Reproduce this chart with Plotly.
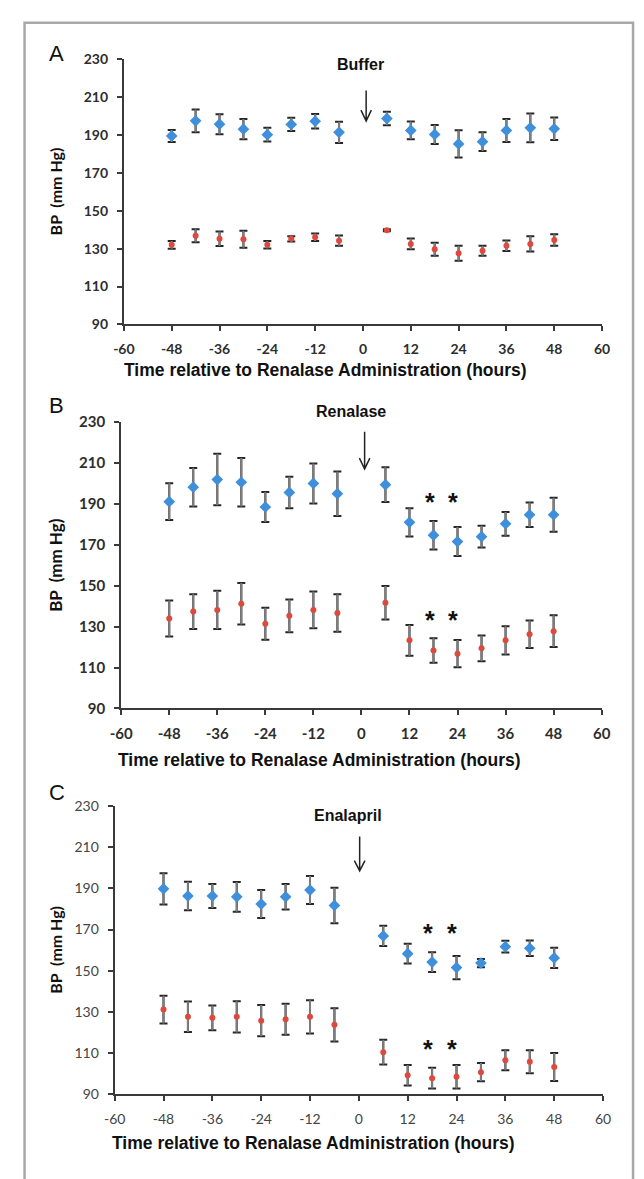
import plotly.graph_objects as go

# ---------------- data ----------------
hours = [-48, -42, -36, -30, -24, -18, -12, -6, 6, 12, 18, 24, 30, 36, 42, 48]

a_blue = [189.5, 197.5, 195.7, 193.1, 190.2, 195.6, 197.3, 191.4, 198.7, 192.4, 190.3, 185.3, 186.5, 192.4, 193.8, 193.3]
a_blue_err = [3.2, 6.0, 5.3, 5.4, 3.6, 3.5, 3.8, 5.6, 3.6, 4.7, 5.0, 7.2, 4.9, 6.1, 7.6, 5.9]
a_red = [132.0, 136.8, 135.2, 135.0, 132.1, 135.2, 136.0, 134.2, 139.7, 132.5, 129.7, 127.6, 128.9, 131.5, 132.5, 134.6]
a_red_err = [2.0, 3.4, 3.8, 4.5, 2.0, 1.4, 2.0, 2.7, 0.5, 2.8, 3.4, 4.0, 2.7, 2.8, 4.0, 3.0]

b_blue = [191.1, 198.2, 201.9, 200.6, 188.5, 195.6, 200.0, 195.0, 199.4, 181.0, 174.7, 171.6, 174.0, 180.3, 184.7, 184.7]
b_blue_err = [9.0, 9.4, 12.6, 11.9, 7.3, 7.7, 9.8, 10.9, 8.5, 6.9, 7.0, 7.1, 5.3, 5.8, 6.0, 8.3]
b_red = [134.0, 137.4, 138.2, 141.2, 131.4, 135.3, 138.2, 136.7, 141.7, 123.3, 118.3, 116.8, 119.4, 123.3, 126.3, 127.8]
b_red_err = [8.8, 8.5, 9.3, 10.2, 7.8, 8.0, 9.0, 9.2, 8.2, 7.5, 6.0, 6.7, 6.3, 6.9, 6.7, 7.8]

c_blue = [189.8, 186.3, 186.3, 185.9, 182.4, 185.9, 189.2, 181.7, 166.9, 158.3, 154.2, 151.5, 153.7, 161.7, 160.9, 156.2]
c_blue_err = [7.6, 6.9, 5.8, 7.2, 6.8, 6.2, 6.8, 8.6, 4.9, 4.8, 4.8, 5.6, 2.0, 2.9, 3.8, 4.9]
c_red = [131.1, 127.6, 127.1, 127.6, 125.7, 126.4, 127.6, 123.7, 110.4, 99.2, 97.8, 98.5, 100.7, 106.5, 105.8, 103.2]
c_red_err = [6.7, 7.4, 6.0, 7.6, 7.6, 7.5, 8.1, 8.1, 6.0, 5.0, 5.0, 5.7, 4.4, 4.9, 5.6, 6.8]

panel_letters = ["A", "B", "C"]
treatments = ["Buffer", "Renalase", "Enalapril"]
x_ticks = [-60, -48, -36, -24, -12, 0, 12, 24, 36, 48, 60]
x_tick_text = ["-60", "-48", "-36", "-24", "-12", "0", "12", "24", "36", "48", "60"]
y_ticks = [90, 110, 130, 150, 170, 190, 210, 230]
x_title = "Time relative to Renalase Administration (hours)"
y_title = "BP  (mm Hg)"

# significance stars (panels B and C)
star_hours = [17.1, 22.9]
star_levels = {1: [193.2, 135.5], 2: [170.7, 114.3]}

# ---------------- layout geometry (pixels) ----------------
W, H = 644, 1179
YMIN, YMAX = 90, 230
panels = [
    dict(x0=116.5, x1=610.0, y0=50.0, y1=319.3, tick=14, tickw="bold", tickc="#2e2e2e",
         title_x=325, title_y=366, ytitle_size=16,
         letter_y=44, lab_x=-0.6, lab_y=227.0, arr_x=0.8, arr_top=213.5, arr_tip=197.4, arr_dy=5.7),
    dict(x0=113.7, x1=609.6, y0=418.5, y1=709.3, tick=15, tickw="bold", tickc="#2e2e2e",
         title_x=318, title_y=762, ytitle_size=17,
         letter_y=402, lab_x=-2.6, lab_y=235.0, arr_x=0.8, arr_top=225.3, arr_tip=207.1, arr_dy=5.3),
    dict(x0=107.0, x1=611.0, y0=808.4, y1=1101.0, tick=14, tickw="normal", tickc="#444444",
         title_x=312, title_y=1151, ytitle_size=16,
         letter_y=795, lab_x=-2.6, lab_y=225.3, arr_x=0.2, arr_top=215.2, arr_tip=198.5, arr_dy=5.0),
]

series = [
    (a_blue, a_blue_err, a_red, a_red_err),
    (b_blue, b_blue_err, b_red, b_red_err),
    (c_blue, c_blue_err, c_red, c_red_err),
]

BLUE = "#3f8fdb"
RED = "#e0483d"
CAP = "#262626"
STEM = "#7d7d7d"
AX = "#3a3a3a"


def ypaper(p, v):
    px = p["y0"] + (YMAX - v) * (p["y1"] - p["y0"]) / (YMAX - YMIN)
    return 1 - px / H


fig = go.Figure()
layout = dict(width=W, height=H, margin=dict(l=0, r=0, t=0, b=0),
              paper_bgcolor="white", plot_bgcolor="white", showlegend=False)
annotations = []
shapes = []

for i, (p, (bv, be, rv, re)) in enumerate(zip(panels, series)):
    sfx = "" if i == 0 else str(i + 1)
    xa, ya = "x" + sfx, "y" + sfx
    for vals, errs, sym, size, col in [(bv, be, "diamond", 9, BLUE), (rv, re, "circle", 6, RED)]:
        # dark caps
        fig.add_trace(go.Scatter(
            x=hours, y=vals, mode="markers", xaxis=xa, yaxis=ya, hoverinfo="skip",
            marker=dict(size=1, color="rgba(0,0,0,0)"),
            error_y=dict(type="data", array=errs, visible=True, color=CAP, thickness=2, width=4)))
        # grey stems + markers
        fig.add_trace(go.Scatter(
            x=hours, y=vals, mode="markers", xaxis=xa, yaxis=ya,
            marker=dict(symbol=sym, size=size, color=col),
            error_y=dict(type="data", array=errs, visible=True, color=STEM, thickness=2, width=0)))

    tickfont = dict(family="Lato, Liberation Sans, sans-serif", size=p["tick"], color=p["tickc"], weight=p["tickw"])
    layout["xaxis" + sfx] = dict(
        domain=[p["x0"] / W, p["x1"] / W], range=[-60, 60], anchor=ya,
        tickvals=x_ticks, ticktext=x_tick_text, ticks="outside", ticklen=5, tickwidth=1.5, tickcolor=AX,
        showline=True, linecolor=AX, linewidth=2, showgrid=False, zeroline=False,
        tickfont=tickfont, ticklabelstandoff=6, fixedrange=True)
    layout["yaxis" + sfx] = dict(
        domain=[1 - p["y1"] / H, 1 - p["y0"] / H], range=[YMIN, YMAX], anchor=xa,
        tickvals=y_ticks, ticks="outside", ticklen=5, tickwidth=1.5, tickcolor=AX,
        showline=True, linecolor=AX, linewidth=2, showgrid=False, zeroline=False,
        tickfont=tickfont, ticklabelstandoff=6, fixedrange=True)

    # x title
    annotations.append(dict(
        text=x_title, xref="paper", yref="paper", x=p["title_x"] / W, y=1 - p["title_y"] / H,
        showarrow=False, xanchor="center", yanchor="middle",
        font=dict(family="Liberation Sans, Arial, sans-serif", size=17.5, color="#111", weight="bold")))
    # y title
    annotations.append(dict(
        text=y_title, xref="paper", yref="paper", x=46 / W, y=1 - (p["y0"] + p["y1"]) / 2 / H,
        showarrow=False, textangle=-90, xanchor="center", yanchor="middle",
        font=dict(family="Lato, Liberation Sans, sans-serif", size=p["ytitle_size"], color="#111", weight="bold")))
    # panel letter
    annotations.append(dict(
        text=panel_letters[i], xref="paper", yref="paper", x=47 / W, y=1 - p["letter_y"] / H,
        showarrow=False, xanchor="center", yanchor="middle",
        font=dict(family="Liberation Sans, Arial, sans-serif", size=22, color="#111")))
    # treatment label
    annotations.append(dict(
        text=treatments[i], xref=xa, yref="paper", x=p["lab_x"], y=ypaper(p, p["lab_y"]),
        showarrow=False, xanchor="center", yanchor="middle",
        font=dict(family="Liberation Sans, Arial, sans-serif", size=16, color="#111", weight="bold")))
    # arrow
    ax, top, tip, dy = p["arr_x"], p["arr_top"], p["arr_tip"], p["arr_dy"]
    dx = 1.3
    shapes.append(dict(
        type="path", xref=xa, yref=ya,
        path=f"M {ax},{top} L {ax},{tip} M {ax - dx},{tip + dy} L {ax},{tip} L {ax + dx},{tip + dy}",
        line=dict(color="#222", width=1.5)))
    # stars
    if i in star_levels:
        for lvl in star_levels[i]:
            for sh in star_hours:
                annotations.append(dict(
                    text="*", xref=xa, yref=ya, x=sh, y=lvl, showarrow=False,
                    xanchor="center", yanchor="middle", yshift=-5,
                    font=dict(family="Liberation Sans, Arial, sans-serif", size=25, color="#111", weight="bold")))

# outer frame
shapes.append(dict(type="rect", xref="paper", yref="paper",
                   x0=14 / W, x1=642 / W, y0=-0.02, y1=1 - 13 / H,
                   line=dict(color="#a8a8a8", width=2.5)))

layout["annotations"] = annotations
layout["shapes"] = shapes
fig.update_layout(**layout)
fig.write_html("out.html", config={"displayModeBar": False},
               post_script="document.body.style.margin='0';document.body.style.overflow='hidden';")
